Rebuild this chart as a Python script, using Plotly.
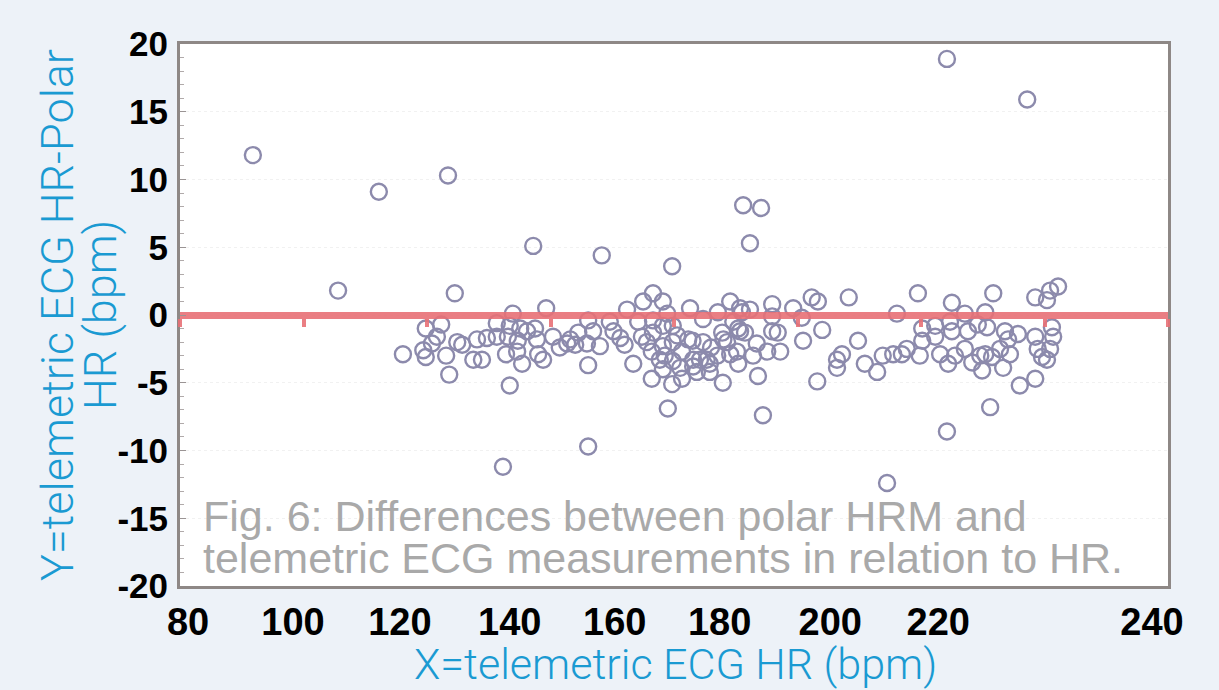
import plotly.graph_objects as go

# HR (x) and difference (y) values
hr = [91.8,112.2,123.4,105.6,124.5,171.2,174.1,137.2,148.3,159.7,172.3,204.2,217.2,188.3,199.5,211.7,205.0,196.1,218.5,220.4,222.2,220.9,
      133.9,139.3,152.4,155.0,156.6,158.2,162.6,167.1,169.1,170.7,172.3,175.9,179.3,182.3,183.3,158.9,207.1,210.4,
      119.8,122.3,116.1,119.4,119.8,120.8,121.6,123.1,123.6,124.9,125.7,127.5,128.9,128.1,129.7,131.3,131.3,132.8,133.4,132.3,
      133.4,135.1,136.2,133.1,134.7,135.4,134.6,137.8,137.5,138.0,138.8,140.4,142.7,144.0,144.5,145.9,146.1,146.9,146.1,146.1,
      149.6,151.3,153.4,154.8,154.2,156.6,156.6,156.4,157.7,156.4,158.2,159.0,159.7,161.3,159.8,161.3,161.0,164.7,162.3,163.1,
      164.7,165.3,165.8,167.8,167.0,167.9,169.6,170.7,170.2,170.4,173.4,175.1,177.2,173.6,174.4,175.9,175.9,176.8,180.7,180.9,
      184.0,183.2,186.4,186.4,158.2,159.8,158.2,159.8,158.5,163.0,164.2,165.8,163.1,163.7,168.6,170.4,171.5,171.0,169.1,
      189.8,187.2,190.9,192.9,193.8,195.5,196.9,197.7,194.5,204.2,211.2,216.0,218.5,200.2,202.3,204.7,200.2,202.3,205.0,207.6,
      209.2,210.7,199.8,203.1,204.4,205.5,207.1,208.3,209.6,209.9,212.8,214.1,214.4,213.6,215.7,213.3,211.5,218.5,218.9,221.2,
      221.4,220.9,219.6,220.4,210.4,141.5,143.2,148.0,150.2,152.0,155.6,160.5,166.0,168.0,172.8]
diff = [11.8,9.1,10.3,1.8,1.6,8.1,7.9,5.1,4.4,3.6,5.3,18.9,15.9,1.3,1.6,1.6,0.9,0.1,1.3,1.1,2.1,1.8,
        0.1,0.5,0.4,1.0,1.6,1.0,0.5,0.2,1.0,0.5,0.4,0.8,0.5,1.3,1.0,0.1,0.1,0.2,
        -1.0,-0.7,-2.9,-2.6,-3.1,-2.1,-1.6,-3.0,-4.4,-2.0,-2.2,-3.3,-3.3,-1.8,-1.7,-0.6,-1.6,-2.9,-5.2,-11.2,
        -0.8,-1.0,-1.2,-1.6,-1.9,-3.6,-2.7,-1.8,-1.0,-2.9,-3.3,-1.6,-2.1,-2.2,-1.3,-2.1,-0.4,-1.2,-3.7,-9.7,
        -0.5,-1.7,-3.6,-1.6,-0.5,-0.4,-1.3,-2.7,-3.3,-4.7,-4.0,-6.9,-5.1,-4.7,-2.0,-2.7,-3.9,-0.3,-1.8,-3.3,
        -2.0,-3.3,-4.2,-1.3,-3.0,-5.0,-0.5,-1.2,-2.7,-3.6,-2.1,-2.7,-2.7,-4.5,-7.4,-0.1,-1.2,-1.3,-0.2,-1.9,
        -1.1,-4.9,-3.3,-3.9,-0.8,-0.8,-2.3,-3.4,-3.0,-1.9,-3.3,-3.6,-3.8,-4.2,-2.0,-1.0,-1.3,0.2,-2.9,
        -1.9,-2.9,-3.6,-4.2,-3.0,-2.9,-2.9,-2.5,-12.4,-8.6,-6.8,-5.2,-4.7,-1.0,-0.8,-0.5,-1.9,-1.6,-1.2,-1.2,
        -0.7,-0.9,-3.0,-2.9,-3.6,-3.0,-2.5,-3.5,-3.0,-4.1,-2.5,-1.8,-2.9,-1.2,-1.4,-3.9,-3.1,-1.6,-2.5,-0.9,
        -1.6,-2.5,-3.1,-3.3,-2.9,-2.4,-1.8,-2.3,-1.2,-2.2,-2.0,-1.5,-2.4,-1.8,-3.0]

y_ticks = [-20, -15, -10, -5, 0, 5, 10, 15, 20]
y_tick_text = ["-20", "-15", "-10", "-5", "0", "5", "10", "15", "20"]
x_tick_text = ["80", "100", "120", "140", "160", "180", "200", "220", "240"]
# where the tick labels are printed in the reference (they are offset from the true grid)
x_tick_label_pos = [81.3, 98.3, 115.6, 133.4, 150.4, 167.4, 185.3, 202.8, 237.4]

caption_lines = ["Fig. 6: Differences between polar HRM and",
                 "telemetric ECG measurements in relation to HR."]

blue = "#1a9ad2"

fig = go.Figure()
fig.add_trace(go.Scatter(
    x=hr, y=diff, mode="markers",
    marker=dict(symbol="circle-open", size=16, color="#8c8aac", line=dict(width=2.4, color="#8c8aac")),
    showlegend=False, xaxis="x", yaxis="y"))

# zero line drawn as second x axis (red, with downward ticks)
fig.add_trace(go.Scatter(x=[80, 240], y=[0, 0], mode="lines", line=dict(width=0), showlegend=False,
                         xaxis="x2", yaxis="y", hoverinfo="skip"))

fig.update_layout(
    width=1219, height=690,
    paper_bgcolor="#edf2f8", plot_bgcolor="white",
    margin=dict(l=180, r=51, t=44, b=104),
    xaxis=dict(range=[80, 240], tickvals=x_tick_label_pos, ticktext=x_tick_text,
               showgrid=False, zeroline=False, ticks="",
               showline=True, mirror=True, linecolor="#8e8886", linewidth=3,
               tickfont=dict(family="Liberation Sans, Arial", size=38, color="black", weight="bold"),
               ticklabelstandoff=0),
    xaxis2=dict(range=[80, 240], overlaying="x", anchor="free", position=0.5, side="bottom",
                showline=True, linecolor="rgba(232,112,118,0.9)", linewidth=7,
                ticks="outside", ticklen=8, tickwidth=4, tickcolor="rgba(232,112,118,0.9)",
                dtick=20, tick0=80, showticklabels=False, showgrid=False, zeroline=False),
    yaxis=dict(range=[-20, 20], tickvals=y_ticks, ticktext=y_tick_text, showgrid=True,
               gridcolor="#f1f1f1", griddash="dot",
               zeroline=False, showline=True, mirror=True, linecolor="#8e8886", linewidth=3,
               ticks="inside", ticklen=6, tickcolor="#9a9494",
               minor=dict(ticks="inside", dtick=1, ticklen=4, tickcolor="#b0aaaa", showgrid=False),
               tickfont=dict(family="Liberation Sans, Arial", size=35, color="black", weight="bold"),
               ticklabelstandoff=2),
    annotations=[
        dict(text="Y=telemetric ECG HR-Polar", x=(57 - 180) / 988, y=0.5, xref="paper", yref="paper",
             textangle=-90, showarrow=False, xanchor="center", yanchor="middle",
             font=dict(family="Roboto", size=45, color=blue, weight=300)),
        dict(text="HR (bpm)", x=(100 - 180) / 988, y=0.5, xref="paper", yref="paper",
             textangle=-90, showarrow=False, xanchor="center", yanchor="middle",
             font=dict(family="Roboto", size=45, color=blue, weight=300)),
        dict(text="X=telemetric ECG HR (bpm)", x=(675 - 180) / 988, y=(586 - 664) / 542, xref="paper", yref="paper",
             showarrow=False, xanchor="center", yanchor="middle",
             font=dict(family="Roboto", size=43, color=blue, weight=300)),
        dict(text=caption_lines[0],
             x=(201 - 180) / 988, y=(586 - 516) / 542, xref="paper", yref="paper", showarrow=False,
             xanchor="left", yanchor="middle", align="left",
             font=dict(family="Liberation Sans, Arial", size=43, color="#a9a9a9")),
        dict(text=caption_lines[1],
             x=(201 - 180) / 988, y=(586 - 558) / 542, xref="paper", yref="paper", showarrow=False,
             xanchor="left", yanchor="middle", align="left",
             font=dict(family="Liberation Sans, Arial", size=43, color="#a9a9a9")),
    ],
)

fig.write_html("out.html", config={"displayModeBar": False},
               post_script="document.body.style.margin='0';document.body.style.overflow='hidden';")
